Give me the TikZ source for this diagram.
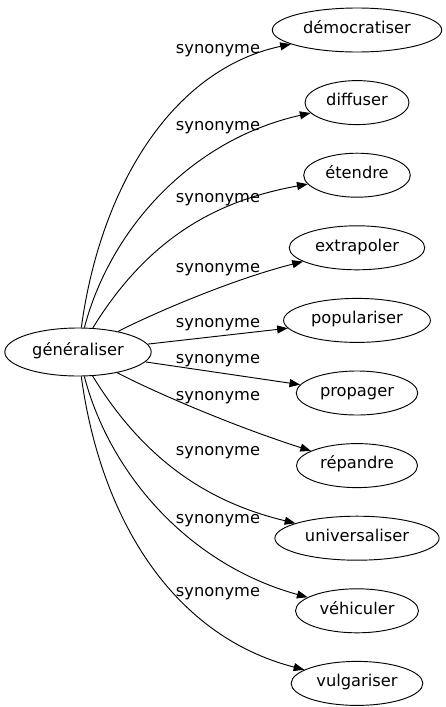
\documentclass[tikz,border=0pt]{standalone}
\usepackage{fontspec}
\setmainfont{DejaVu Sans}
\usetikzlibrary{positioning, shapes.geometric, arrows.meta}
\begin{document}
\begin{tikzpicture}[x=0.75pt, y=-0.75pt, node distance={20.75pt}, line width=0.7pt,
    word/.style = {draw, ellipse, inner xsep=4.5pt, inner ysep=1pt, minimum height=33pt, text height=0.7em, text depth=0.22em, font=\fontsize{12.2}{14}\selectfont},
    syn/.style = {inner sep=0pt, font=\fontsize{12.2}{14}\selectfont},
    edge/.style = {-{Triangle[length=8pt, width=6pt]}}]
            \useasboundingbox (0,0) rectangle (446,707);
            \node[word, minimum height=36pt] (main) at (78,352) {généraliser};
            \node[word] (1) at (357,30) {démocratiser};
            \node[word] (2) [below=of 1] {diffuser};
            \node[word] (3) [below=of 2] {étendre};
            \node[word] (4) [below=of 3] {extrapoler};
            \node[word] (5) [below=of 4] {populariser};
            \node[word] (6) [below=of 5] {propager};
            \node[word] (7) [below=of 6] {répandre};
            \node[word] (8) [below=of 7] {universaliser};
            \node[word] (9) [below=of 8] {véhiculer};
            \node[word] (10) [below=of 9] {vulgariser};
            \draw[edge] (main) .. controls (100,190) and (170,70) .. (1);
            \draw[edge] (main) .. controls (110,230) and (190,140) .. (2);
            \draw[edge] (main) .. controls (150,235) and (220,200) .. (3);
            \draw[edge] (main) .. controls (150,315) and (230,280) .. (4);
            \draw[edge] (main) -- (5);
            \draw[edge] (main) -- (6);
            \draw[edge] (main) .. controls (150,390) and (230,425) .. (7);
            \draw[edge] (main) .. controls (150,470) and (220,505) .. (8);
            \draw[edge] (main) .. controls (110,475) and (190,565) .. (9);
            \draw[edge] (main) .. controls (100,515) and (170,635) .. (10);
            \node[syn] (s1) at (218,51) {synonyme};
            \node[syn] (s2) at (218,128) {synonyme};
            \node[syn] (s3) at (218,200) {synonyme};
            \node[syn] (s4) at (218,270) {synonyme};
            \node[syn] (s5) at (218,325) {synonyme};
            \node[syn] (s6) at (218,361) {synonyme};
            \node[syn] (s7) at (218,398) {synonyme};
            \node[syn] (s8) at (218,453) {synonyme};
            \node[syn] (s9) at (218,521) {synonyme};
            \node[syn] (s10) at (218,594) {synonyme};
        \end{tikzpicture}
\end{document}
